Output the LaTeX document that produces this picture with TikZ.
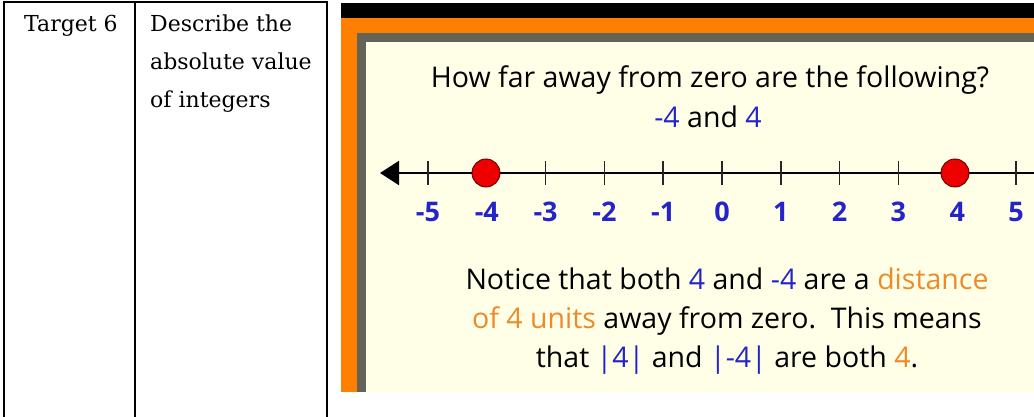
\documentclass[tikz,border=0pt]{standalone}
\usepackage{fontspec}
\setmainfont{DejaVu Serif}
\newfontfamily\slidefont{Open Sans}
\usetikzlibrary{arrows.meta}
\definecolor{frameorange}{HTML}{FF8000}
\definecolor{framegray}{HTML}{63635A}
\definecolor{slidecream}{HTML}{FFFFE8}
\definecolor{numblue}{HTML}{2424C8}
\definecolor{wordorange}{HTML}{EE8A2A}
\definecolor{dotred}{HTML}{EE0000}

\begin{document}
\begin{tikzpicture}[x=1pt, y=-1pt,
    every node/.style={inner sep=0pt},
    rule/.style={draw=black, line width=2pt},
    celltext/.style={font=\fontsize{22}{38}\selectfont, anchor=north west, align=left},
    slidetext/.style={font=\slidefont\fontsize{28.5}{39}\selectfont, align=center},
    numtick/.style={draw=black!85, line width=1.5pt},
    numlbl/.style={font=\slidefont\bfseries\fontsize{27}{27}\selectfont, text=numblue, anchor=base},
    dot/.style={circle, fill=dotred, draw=red!35!black, line width=0.9pt, minimum size=28pt}
]
\useasboundingbox (0,0) rectangle (1034,417);
% table rules
\draw[rule] (4,417) -- (4,2) -- (328,2);
\draw[rule] (135,2) -- (135,417);
\draw[rule] (327,2) -- (327,417);
\node[celltext] (target) at (24,15) {Target 6};
\node[celltext] (goal) at (150,15) {Describe the\\absolute value\\of integers};
% slide frame
\fill[black] (341,3) rectangle (1034,18);
\fill[frameorange] (341,18) rectangle (1034,392);
\fill[framegray] (357,33) rectangle (1034,392);
\fill[slidecream] (366,42) rectangle (1034,392);
% question
\node[slidetext, anchor=base] (question) at (710,88) {How far away from zero are the following?};
\node[slidetext, anchor=base] (pair) at (708,128)
    {\textcolor{numblue}{-4} and \textcolor{numblue}{4}};
% number line
\coordinate (lineL) at (380,173);
\coordinate (lineR) at (1034,173);
\draw[line width=2pt, -{Triangle[length=19pt, width=24pt]}] (lineR) -- (lineL);
\foreach \n in {-5,...,5} {
    \draw[numtick] (722+58.8*\n, 161) -- ++(0,24);
    \node[numlbl] (lbl\n) at (722+58.8*\n, 221) {\n};
}
\node[dot] (dotneg) at (486,173) {};
\node[dot] (dotpos) at (955,173) {};
% explanation
\node[slidetext, anchor=north] (notice) at (727,268)
    {Notice that both \textcolor{numblue}{4} and \textcolor{numblue}{-4} are a \textcolor{wordorange}{distance}\\
     \textcolor{wordorange}{of 4 units} away from zero.\ \ This means\\
     that \textcolor{numblue}{|4|} and \textcolor{numblue}{|-4|} are both \textcolor{wordorange}{4}.};
\end{tikzpicture}
\end{document}
